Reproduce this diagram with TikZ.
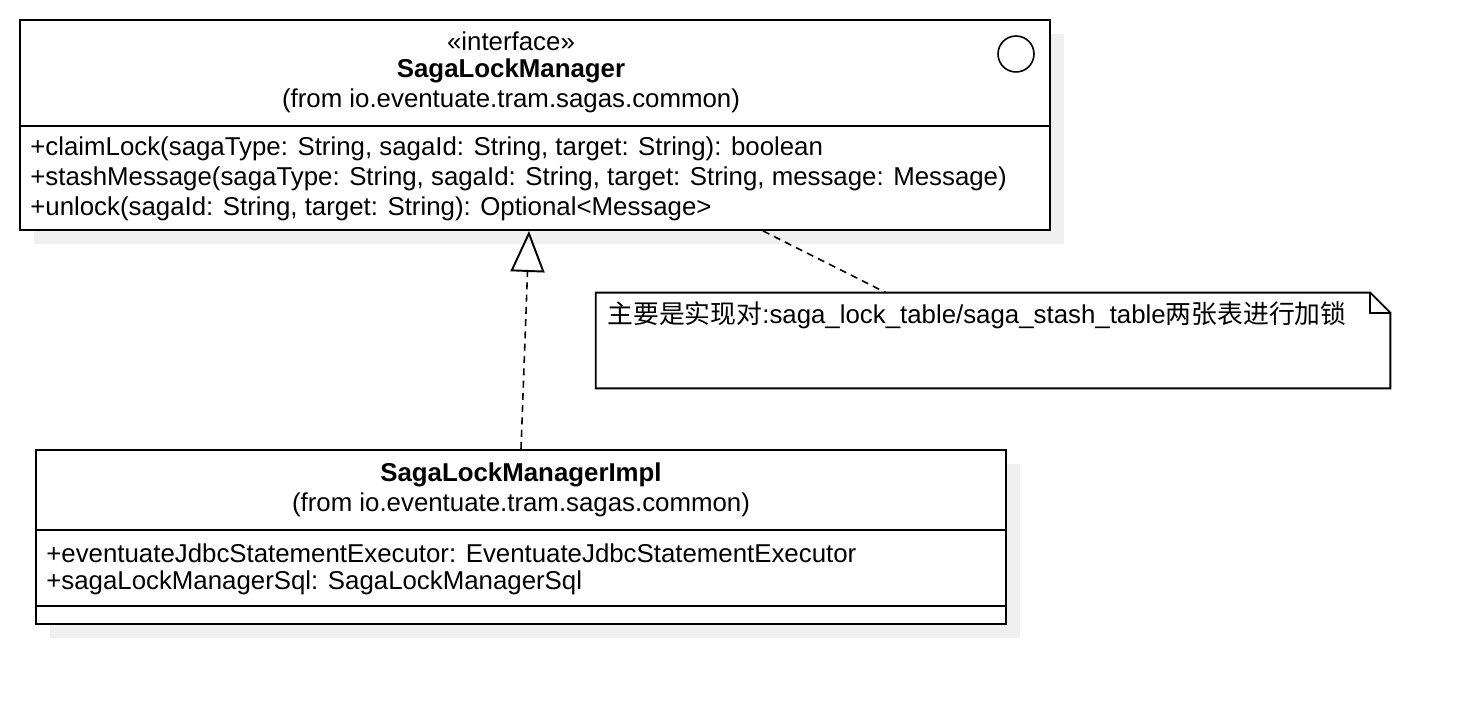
\documentclass[tikz,border=0pt]{standalone}
\usepackage{fontspec}
\setmainfont{Liberation Sans}
\newfontfamily\cjk{Noto Sans CJK SC}
\usetikzlibrary{calc,arrows.meta,positioning}
\definecolor{shade}{HTML}{F0F0F0}
\tikzset{
  box/.style={draw=black, line width=1.1pt, fill=white, inner sep=0pt},
  shadow/.style={fill=shade, draw=none},
  txt/.style={font=\fontsize{14.7}{17}\selectfont, inner sep=0pt},
  bold/.style={txt, font=\fontsize{14.7}{17}\selectfont\bfseries},
  mem/.style={txt, anchor=west},
  dep/.style={draw=black, line width=0.9pt, dash pattern=on 4pt off 3pt},
  real/.style={dep, -{Triangle[open, width=0.68cm, length=0.82cm, line width=1.1pt]}},
}
\begin{document}
\begin{tikzpicture}[x=0.02cm, y=-0.02cm]
  \useasboundingbox (0,0) rectangle (1470,704);
  % shadows
  \fill[shadow] (34,34) rectangle (1064,244);
  \fill[shadow] (50,464) rectangle (1020,638);

  % interface
  \node[box, minimum width=20.6cm, minimum height=4.2cm] (mgr) at (535,125) {};
  \draw[line width=1.1pt] (mgr.west |- 0,126) -- (mgr.east |- 0,126);
  \node[draw, line width=0.9pt, circle, minimum size=0.72cm] (ball) at (1016,54) {};
  \node[txt] (mgrst) at (511,41) {«interface»};
  \node[bold] (mgrname) at (511,71) {SagaLockManager};
  \node[txt] (mgrpkg) at (511,101) {(from io.eventuate.tram.sagas.common)};
  \node[mem] (m1) at (30,149) {+claimLock(sagaType: String, sagaId: String, target: String): boolean};
  \node[mem] (m2) at (30,179) {+stashMessage(sagaType: String, sagaId: String, target: String, message: Message)};
  \node[mem] (m3) at (30,209) {+unlock(sagaId: String, target: String): Optional<Message>};

  % implementation
  \node[box, minimum width=19.4cm, minimum height=3.48cm] (impl) at (521,537) {};
  \draw[line width=1.1pt] (impl.west |- 0,530) -- (impl.east |- 0,530);
  \draw[line width=1.1pt] (impl.west |- 0,606) -- (impl.east |- 0,606);
  \node[bold] (implname) at (521,475) {SagaLockManagerImpl};
  \node[txt] (implpkg) at (521,505) {(from io.eventuate.tram.sagas.common)};
  \node[mem] (a1) at (46,553) {+eventuateJdbcStatementExecutor: EventuateJdbcStatementExecutor};
  \node[mem] (a2) at (46,583) {+sagaLockManagerSql: SagaLockManagerSql};

  % note
  \node[minimum width=15.88cm, minimum height=1.9cm, inner sep=0pt] (note) at (993,340.5) {};
  \draw[line width=1.1pt, fill=white] (note.north west) -- ([xshift=-0.4cm]note.north east)
    -- ([yshift=-0.4cm]note.north east) -- (note.south east) -- (note.south west) -- cycle;
  \draw[line width=1.1pt] ([xshift=-0.4cm]note.north east) -- ([xshift=-0.4cm,yshift=-0.4cm]note.north east)
    -- ([yshift=-0.4cm]note.north east);
  \node[mem] (notetxt) at (607,315) {{\cjk 主要是实现对}:saga\_lock\_table/saga\_stash\_table{\cjk 两张表进行加锁}};

  % connectors
  \draw[real] (impl.north) -- ([xshift=-0.12cm]mgr.south);
  \draw[dep] ([xshift=4.56cm]mgr.south) -- ([xshift=-2.14cm]note.north);
\end{tikzpicture}
\end{document}
